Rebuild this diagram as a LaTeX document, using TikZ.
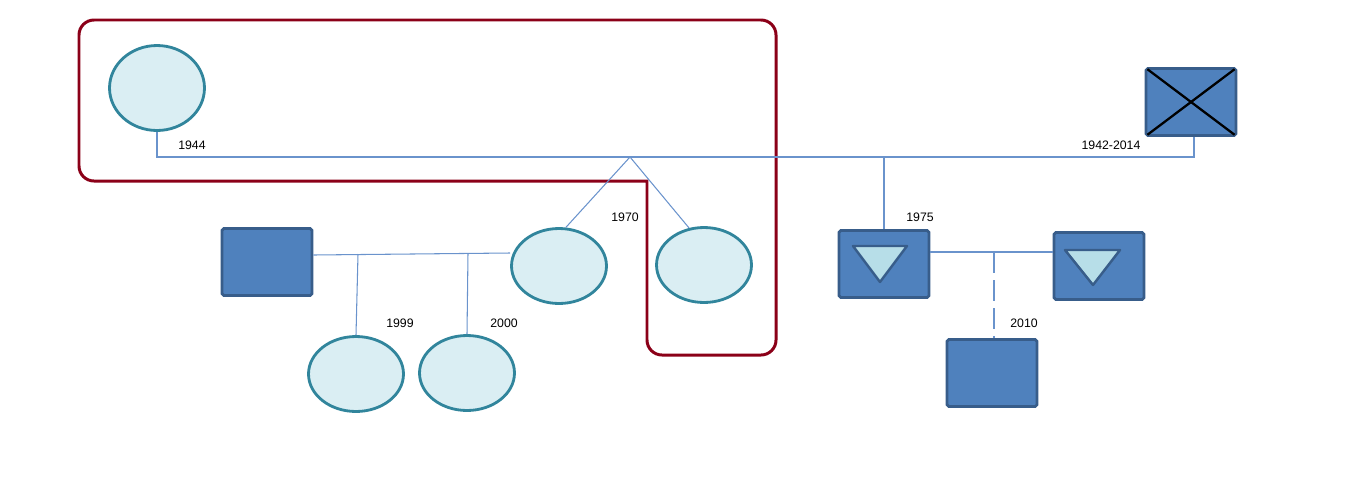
\documentclass[tikz,border=0pt]{standalone}
\usepackage{fontspec}
\setmainfont{Liberation Sans}
\usetikzlibrary{shapes.geometric}
\definecolor{femfill}{HTML}{DAEEF3}
\definecolor{femline}{HTML}{31859C}
\definecolor{malefill}{HTML}{4F81BD}
\definecolor{maleline}{HTML}{385D8A}
\definecolor{trifill}{HTML}{B7DEE8}
\definecolor{relline}{HTML}{6A93CC}
\definecolor{groupline}{HTML}{8B0018}
\begin{document}
\begin{tikzpicture}[x=0.02cm, y=-0.02cm,
		female/.style = {ellipse, draw = femline, fill = femfill, line width = 1.6pt, minimum width = 1.9cm, minimum height = 1.5cm, inner sep = 0pt},
		male/.style = {rectangle, draw = maleline, fill = malefill, line width = 1.6pt, rounded corners = 1pt, minimum width = 1.8cm, minimum height = 1.34cm, inner sep = 0pt},
		tri/.style = {draw = maleline, fill = trifill, line width = 1.4pt, line join = round},
		rel/.style = {draw = relline, line width = 0.6pt},
		year/.style = {font = \fontsize{7}{8}\selectfont, inner sep = 1pt}]
	\useasboundingbox (0,0) rectangle (1353,491);

	% highlighted group
	\draw [groupline, line width = 1.7pt, rounded corners = 0.3cm]
		(400,20) -- (776,20) -- (776,355) -- (647,355) [sharp corners] -- (647,181)
		[rounded corners = 0.3cm] -- (79,181) -- (79,20) -- cycle;

	\node [female, minimum height = 1.7cm] (gm) at (157,88) {};
	\node [male] (gf) at (1191,102) {};
	\draw [black, line width = 1.3pt, shorten > = 2pt, shorten < = 2pt] (gf.north west) -- (gf.south east);
	\draw [black, line width = 1.3pt, shorten > = 2pt, shorten < = 2pt] (gf.south west) -- (gf.north east);

	\coordinate (gmb) at (157,157);
	\coordinate (gfb) at (1194,157);
	\coordinate (kids) at (630,157);
	\coordinate (son) at (884,157);

	\node [female] (d1) at (559,266) {};
	\node [female] (d2) at (704,265) {};
	\node [male] (sp) at (267,262) {};
	\node [female] (g1) at (356,374) {};
	\node [female] (g2) at (467,373) {};

	\node [male] (s1) at (884,264) {};
	\node [male] (s2) at (1099,266) {};
	\node [male] (g3) at (992,373) {};
	\draw [tri] (s1) ++(-31,-18) -- ++(54,0) -- ++(-27,36) -- cycle;
	\draw [tri] (s2) ++(-34,-16) -- ++(55,0) -- ++(-27,35) -- cycle;

	\draw [rel] (gm.south) -- (gmb) -- (gfb) -- (gf.south -| gfb);
	\draw [rel] (kids) -- (d1.80);
	\draw [rel] (kids) -- (d2.112);
	\draw [rel] (son) -- (s1.north);

	\coordinate (m1) at (510,253);
	\coordinate (c1) at (358,254);
	\coordinate (c2) at (468,253);
	\draw [rel] (sp.east |- 0,255) -- (m1);
	\draw [rel] (c1) -- (g1.north);
	\draw [rel] (c2) -- (g2.north);

	\coordinate (m2) at (994,252);
	\draw [rel] (s1.east |- m2) -- (s2.west |- m2);
	\draw [rel, dash pattern = on 12pt off 4pt] (m2) -- (g3.north -| m2);

	\node [year] (y1944) at (192,145) {1944};
	\node [year] (y1942) at (1111,145) {1942-2014};
	\node [year] (y1970) at (625,217) {1970};
	\node [year] (y1975) at (920,217) {1975};
	\node [year] (y1999) at (400,323) {1999};
	\node [year] (y2000) at (504,323) {2000};
	\node [year] (y2010) at (1024,323) {2010};
\end{tikzpicture}
\end{document}
